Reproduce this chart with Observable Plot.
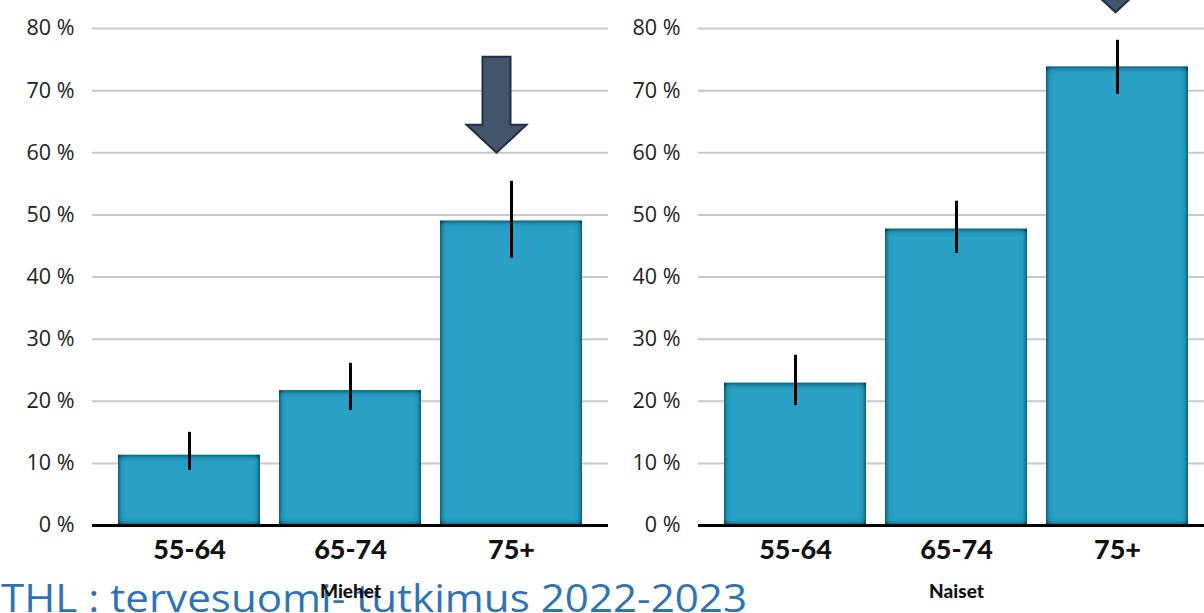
<!DOCTYPE html>
<html>
<head>
<meta charset="utf-8">
<script src="https://cdn.jsdelivr.net/npm/d3@7"></script>
<script src="https://cdn.jsdelivr.net/npm/@observablehq/plot@0.6"></script>
<style>
  html, body { margin: 0; padding: 0; background: white; overflow: hidden; }
  #wrap { position: relative; width: 1204px; height: 613px; overflow: hidden; }
  #caption { position: absolute; left: 0; top: 0; }
  #chart { position: absolute; left: 0; top: 0; width: 1215px; }
  #chart svg { max-width: none !important; }
</style>
</head>
<body>
<div id="wrap">
  <svg id="caption" width="1204" height="613">
    <text x="1" y="612" font-family="Open Sans, sans-serif" font-size="38" fill="#2e74b5" textLength="746" lengthAdjust="spacingAndGlyphs">THL : tervesuomi- tutkimus 2022-2023</text>
  </svg>
  <div id="chart"></div>
</div>
<script>
// ---- data ----
const groups = ["Miehet", "Naiset"];
const ages = ["55-64", "65-74", "75+"];
const menValues = [11.3, 21.7, 49.0];
const menLow = [8.9, 18.5, 43.0];
const menHigh = [15.0, 26.1, 55.4];
const womenValues = [22.9, 47.7, 73.8];
const womenLow = [19.3, 43.8, 69.4];
const womenHigh = [27.4, 52.2, 78.1];
const yTicks = [0, 10, 20, 30, 40, 50, 60, 70, 80];
const arrowGroups = ["Miehet", "Naiset"];
const arrowAges = ["75+", "75+"];
const arrowTips = [60.0, 82.6];

// ---- table ----
const rows = [];
ages.forEach((a, i) => rows.push({group: "Miehet", age: a, value: menValues[i], low: menLow[i], high: menHigh[i]}));
ages.forEach((a, i) => rows.push({group: "Naiset", age: a, value: womenValues[i], low: womenLow[i], high: womenHigh[i]}));
const arrows = arrowGroups.map((g, i) => ({group: g, age: arrowAges[i], tip: arrowTips[i]}));

const blockArrow = {
  draw(ctx) {
    ctx.moveTo(-14, -96);
    ctx.lineTo(14, -96);
    ctx.lineTo(14, -28);
    ctx.lineTo(30, -28);
    ctx.lineTo(0, 0);
    ctx.lineTo(-30, -28);
    ctx.lineTo(-14, -28);
    ctx.closePath();
  }
};

const chart = Plot.plot({
  width: 1215,
  height: 613,
  marginTop: 28,
  marginBottom: 88,
  marginLeft: 92,
  marginRight: 0,
  style: {fontFamily: "'Open Sans', sans-serif", background: "transparent", color: "#222", maxWidth: "none"},
  fx: {domain: groups, paddingInner: 0.1485, paddingOuter: 0, axis: null, label: null},
  x: {domain: ages, paddingInner: 0.12, paddingOuter: 0.16, label: null},
  y: {domain: [0, 80], label: null},
  marks: [
    Plot.gridY(yTicks, {stroke: "#c8c8c8", strokeOpacity: 1, strokeWidth: 2}),
    Plot.axisY(yTicks, {facetAnchor: null, tickSize: 0, tickPadding: 18, tickFormat: d => d + " %", fontSize: 21.5, label: null}),
    Plot.barY(rows, {fx: "group", x: "age", y: "value", fill: "#29a0c4"}),
    Plot.ruleX(rows, {fx: "group", x: "age", y1: "low", y2: "high", stroke: "black", strokeWidth: 3}),
    Plot.ruleY([0], {stroke: "black", strokeWidth: 3}),
    Plot.axisX({tickSize: 0, tickPadding: 14, fontSize: 27, fontWeight: 900, fontFamily: "Lato, sans-serif", fill: "#111", label: null}),
    Plot.text(groups, {fx: d => d, text: d => d, frameAnchor: "bottom", dy: 72, fontWeight: 900, fontSize: 19, fontFamily: "Lato, sans-serif", fill: "#111"}),
    Plot.dot(arrows.filter(d => d.group === "Miehet"), {fx: "group", x: "age", y: "tip", symbol: blockArrow, fill: "#44546a", stroke: "#1f2f4a", strokeWidth: 2, dx: -15}),
    Plot.dot(arrows.filter(d => d.group === "Naiset"), {fx: "group", x: "age", y: "tip", symbol: blockArrow, fill: "#44546a", stroke: "#1f2f4a", strokeWidth: 2, dx: -2})
  ]
});

// inner shadow filter for bars
const svg = d3.select(chart);
const defs = svg.append("defs");
const f = defs.append("filter").attr("id", "innerShadow")
  .attr("x", "-20%").attr("y", "-20%").attr("width", "140%").attr("height", "140%");
f.append("feFlood").attr("flood-color", "#03475f").attr("result", "c");
f.append("feComposite").attr("in", "c").attr("in2", "SourceAlpha").attr("operator", "out").attr("result", "inv");
f.append("feGaussianBlur").attr("in", "inv").attr("stdDeviation", 3).attr("result", "blur");
const ct = f.append("feComponentTransfer").attr("in", "blur").attr("result", "blur2");
ct.append("feFuncA").attr("type", "linear").attr("slope", 1.7);
f.append("feComposite").attr("in", "blur2").attr("in2", "SourceAlpha").attr("operator", "in").attr("result", "shadow");
const m = f.append("feMerge");
m.append("feMergeNode").attr("in", "SourceGraphic");
m.append("feMergeNode").attr("in", "shadow");
svg.selectAll("g[aria-label='bar'] rect").attr("filter", "url(#innerShadow)");

document.getElementById("chart").appendChild(chart);
</script>
</body>
</html>
